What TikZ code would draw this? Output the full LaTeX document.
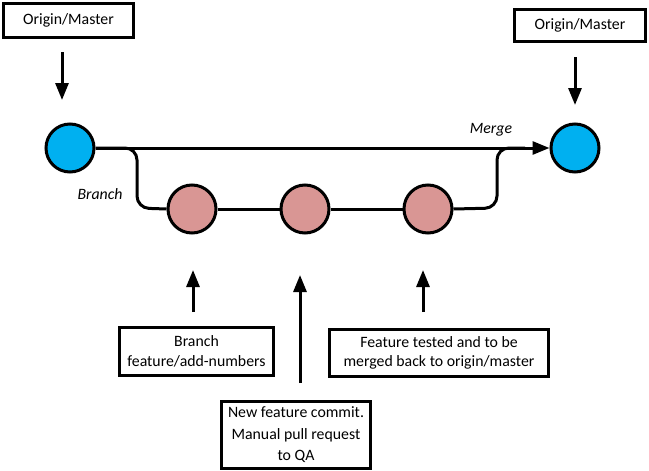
\documentclass[tikz,border=0pt]{standalone}
\usepackage{fontspec}
\setmainfont{Carlito}
\usetikzlibrary{arrows.meta}
\definecolor{mblue}{RGB}{0,176,240}
\definecolor{mpink}{RGB}{217,150,148}
\begin{document}
\begin{tikzpicture}[x=1pt,y=-1pt,
  lbl/.style={draw=black,line width=3.2pt,fill=white,align=center,inner sep=2pt,font=\fontsize{15.8}{19.5}\selectfont},
  commit/.style={circle,draw=black,line width=3pt,minimum size=48pt,inner sep=0pt},
  ptr/.style={line width=3pt,-{Triangle[length=17pt,width=13pt]}},
  wire/.style={line width=3pt},
  tag/.style={font=\fontsize{15.8}{18}\selectfont\itshape}]
\useasboundingbox (0,0) rectangle (649,471);
% boxes
\node[lbl,minimum width=130pt,minimum height=34pt] (om1) at (68.5,20.5) {Origin/Master};
\node[lbl,minimum width=131pt,minimum height=32pt] (om2) at (580,25.5) {Origin/Master};
\node[lbl,minimum width=154pt,minimum height=48pt] (bA) at (196.5,351.5) {Branch\\feature/add-numbers};
\node[lbl,minimum width=149pt,minimum height=67pt,font=\fontsize{15.8}{21.5}\selectfont] (bB) at (296,435) {New feature commit.\\Manual pull request\\to QA};
\node[lbl,minimum width=219pt,minimum height=47pt] (bC) at (439,353) {Feature tested and to be\\merged back to origin/master};
% commits
\node[commit,fill=mblue] (c1) at (70,148) {};
\node[commit,fill=mblue] (c2) at (575,148) {};
\node[commit,fill=mpink] (p1) at (192,209) {};
\node[commit,fill=mpink] (p2) at (305,209) {};
\node[commit,fill=mpink] (p3) at (428,209) {};
% coordinates for arrows
\coordinate (a1s) at (62,52); \coordinate (a1e) at (62,100);
\coordinate (a2s) at (575,57); \coordinate (a2e) at (575,105);
\coordinate (aAs) at (193,312); \coordinate (aAe) at (193,270);
\coordinate (aBs) at (300,383); \coordinate (aBe) at (300,275);
\coordinate (aCs) at (423,312); \coordinate (aCe) at (423,270);
\draw[ptr] (a1s) -- (a1e);
\draw[ptr] (a2s) -- (a2e);
\draw[ptr] (aAs) -- (aAe);
\draw[ptr] (aBs) -- (aBe);
\draw[ptr] (aCs) -- (aCe);
% branch lines
\draw[wire,rounded corners=12pt] (c1.east) -- (137,148) -- (137,208) -- (p1.west);
\draw[wire] (p1.east) -- (p2.west);
\draw[wire] (p2.east) -- (p3.west);
\draw[wire,rounded corners=12pt] (p3.east) -- (497,208) -- (497,148) -- (525,148);
\draw[ptr] (c1.east) -- (c2.west);
% labels
\node[tag] (mg) at (491,130) {Merge};
\node[tag] (br) at (100,194) {Branch};
\end{tikzpicture}
\end{document}
